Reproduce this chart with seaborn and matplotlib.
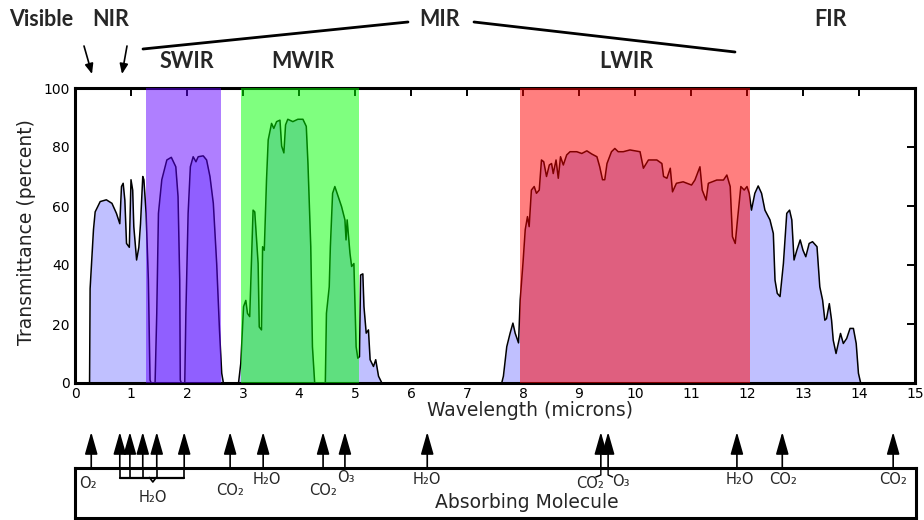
import matplotlib
matplotlib.use("Agg")
import matplotlib.pyplot as plt
from matplotlib.lines import Line2D
import pandas as pd
import seaborn as sns

# ---------------- data ----------------
wavelength = [
    0.0, 0.26, 0.27, 0.33, 0.36, 0.45, 0.56, 0.66, 0.74, 0.80, 0.83, 0.86, 0.89, 0.92, 0.97,
    1.00, 1.03, 1.05, 1.10, 1.14, 1.17, 1.21, 1.23, 1.27, 1.31, 1.34, 1.36,
    1.43, 1.46, 1.49, 1.55, 1.64, 1.72, 1.80, 1.84, 1.87, 1.88, 1.90, 1.96, 1.98, 2.02, 2.06,
    2.11, 2.16, 2.20, 2.29, 2.35, 2.41, 2.47, 2.53, 2.58, 2.62, 2.65,
    2.92, 2.96, 3.01, 3.05, 3.08, 3.12, 3.15, 3.18, 3.21, 3.27, 3.29, 3.33, 3.35, 3.38, 3.42,
    3.45, 3.51, 3.55, 3.60, 3.66, 3.69, 3.73, 3.76, 3.80, 3.89, 3.98, 4.07, 4.13, 4.16, 4.21,
    4.24, 4.28, 4.47, 4.49, 4.54, 4.56, 4.60, 4.64, 4.70, 4.76, 4.82, 4.84, 4.86, 4.91, 4.94,
    4.98, 5.02, 5.05, 5.08, 5.10, 5.14, 5.16, 5.20, 5.24, 5.27, 5.33, 5.37, 5.42, 5.48,
    7.62, 7.65, 7.71, 7.77, 7.82, 7.86, 7.92, 7.95, 8.00, 8.04, 8.08, 8.11, 8.15, 8.20, 8.24,
    8.29, 8.33, 8.37, 8.42, 8.47, 8.51, 8.54, 8.59, 8.63, 8.67, 8.72, 8.78, 8.84, 8.96, 9.05,
    9.14, 9.23, 9.32, 9.37, 9.42, 9.46, 9.50, 9.58, 9.64, 9.70, 9.79, 9.91, 10.09, 10.15,
    10.24, 10.39, 10.48, 10.51, 10.57, 10.63, 10.67, 10.74, 10.86, 11.01, 11.07, 11.16, 11.20,
    11.27, 11.31, 11.46, 11.58, 11.64, 11.70, 11.74, 11.79, 11.83, 11.89, 11.95, 12.00, 12.04,
    12.08, 12.14, 12.20, 12.26, 12.32, 12.41, 12.47, 12.50, 12.54, 12.59, 12.65, 12.71, 12.76,
    12.80, 12.84, 12.89, 12.95, 13.00, 13.05, 13.11, 13.17, 13.25, 13.30, 13.35, 13.39, 13.42,
    13.47, 13.51, 13.54, 13.59, 13.63, 13.67, 13.72, 13.78, 13.84, 13.90, 13.95, 13.99, 14.03,
    15.0,
]
transmittance = [
    0, 0, 32, 52, 58, 61.5, 62.1, 60.9, 57.5, 54, 66.6, 67.7, 62, 47.3, 46,
    68.9, 65.4, 53, 41.7, 46, 54, 70, 68.9, 57.5, 35, 1, 0,
    0, 23.6, 57.5, 68.9, 75.6, 76.5, 73.3, 63.2, 35, 1, 0, 0, 23.6, 57.5, 73.3,
    76.7, 75.0, 76.7, 77, 75.6, 70, 60.9, 40.5, 18, 3.3, 0,
    0, 6.6, 25.9, 28, 23.6, 22.5, 40.5, 58.6, 58, 40.5, 19, 18, 46.2, 45, 68.9,
    82.4, 88, 86.3, 88.6, 89.1, 80.3, 78, 87.5, 89.4, 88.6, 89.4, 89.4, 87, 74.4, 46.2,
    12.3, 0, 0, 23.6, 32.6, 46.2, 64.3, 66.6, 63.2, 59.8, 55.3, 48.5, 55.3, 44, 39.5,
    40.5, 12.3, 8.4, 8.9, 36.6, 37, 25.9, 16.9, 18, 7.9, 5.6, 7.9, 2.3, 0,
    0, 2.3, 12.3, 16.9, 20.3, 16.9, 13.6, 28.3, 40.7, 52, 56.4, 53, 65.4, 66.6, 64.3,
    65.4, 75.6, 75, 70, 73.9, 74.4, 71, 75.6, 69.4, 76.7, 73.9, 77.3, 78.4, 78.4, 77.8,
    78.7, 77.6, 76.7, 73.3, 68.9, 68.9, 74.4, 78.4, 79.5, 78.4, 78.4, 79, 78.4, 72.8,
    75.6, 75.6, 74.4, 70, 69.4, 72.8, 64.8, 67.7, 68.2, 67.1, 68.8, 73.3, 65.4,
    62, 67.7, 68.8, 68.8, 70.5, 66.6, 49.6, 47.3, 55.3, 66.6, 65.4, 66.6, 64.3,
    58.6, 64.3, 66.8, 64.3, 58.6, 55.3, 50.7, 34.9, 30.4, 29.3, 40.5, 57.5, 58.6,
    55.3, 41.7, 45, 48.5, 45, 42.8, 47.3, 47.9, 46.2, 32.6, 28.1, 21.3, 21.8,
    26.9, 21.3, 14.5, 10, 13.4, 16.8, 13.4, 15.1, 18.5, 18.5, 13.4, 3.3, 0,
    0,
]

band_names = ["SWIR", "MWIR", "LWIR"]
band_start = [1.27, 2.97, 7.95]
band_end = [2.60, 5.07, 12.05]
band_colors = ["#6100FF", "#00FF00", "#FF0000"]

molecule_pos = [0.29, 0.80, 0.98, 1.21, 1.46, 1.95, 2.77, 3.36, 4.43, 4.82,
                6.29, 9.39, 9.52, 11.82, 12.63, 14.61]
h2o_group = [0.80, 0.98, 1.21, 1.46, 1.95]
label_text = ["O₂", "H₂O", "CO₂", "H₂O", "CO₂", "O₃", "H₂O", "CO₂", "O₃",
              "H₂O", "CO₂", "CO₂"]
label_x = [0.23, 1.39, 2.77, 3.43, 4.43, 4.84, 6.29, 9.20, 9.74, 11.88, 12.64, 14.61]
label_y = [0.70, 0.42, 0.55, 0.76, 0.55, 0.80, 0.76, 0.70, 0.72, 0.76, 0.76, 0.76]

region_labels = ["Visible", "NIR", "MIR", "FIR"]

# ---------------- figure ----------------
sns.set_style("white")
plt.rcParams["font.family"] = ["DejaVu Sans"]

W, H = 924, 520
fig = plt.figure(figsize=(W / 100, H / 100), dpi=100)


def rect(l, t, r, b):
    return [l / W, 1 - b / H, (r - l) / W, (b - t) / H]


ax = fig.add_axes(rect(75, 88, 915, 383))
df = pd.DataFrame({"wavelength": wavelength, "transmittance": transmittance})
ax.fill_between(df["wavelength"], df["transmittance"], color="#C0C0FF", lw=0, zorder=1)
sns.lineplot(data=df, x="wavelength", y="transmittance", color="black", lw=1.1,
             ax=ax, zorder=2, estimator=None, sort=False)
for s, e, c in zip(band_start, band_end, band_colors):
    ax.axvspan(s, e, color=c, alpha=0.5, lw=0, zorder=4)

ax.set_xlim(0, 15)
ax.set_ylim(0, 100)
ax.set_xticks(range(16))
ax.set_yticks(range(0, 101, 20))
ax.tick_params(direction="in", length=6, width=1.4, top=True, right=True,
               labelsize=10, pad=4, colors="black")
ax.tick_params(axis="x", pad=3)
for sp in ax.spines.values():
    sp.set_linewidth(2.2)
    sp.set_color("black")
    sp.set_zorder(3)

ax.set_xlabel("Wavelength (microns)", fontsize=13.5)
ax.xaxis.set_label_coords((530 - 75) / 840, -(401 - 383) / 295)
ax.set_ylabel("Transmittance (percent)", fontsize=13.5, color="#222222")
ax.yaxis.set_label_coords((36 - 75) / 840, (383 - 232) / 295)

# ---------------- absorbing molecule panel ----------------
ax2 = fig.add_axes(rect(75, 468, 916, 518))
ax2.set_xlim(0, 15 * 841 / 840)
ax2.set_ylim(0, 1)
ax2.set_xticks([])
ax2.set_yticks([])
for sp in ax2.spines.values():
    sp.set_linewidth(2.2)
    sp.set_color("black")

for p in molecule_pos:
    ax2.annotate("", xy=(p, 1.72), xytext=(p, 1.0),
                 arrowprops=dict(arrowstyle="-|>,head_length=1.05,head_width=0.3",
                                 mutation_scale=13, color="black", lw=1.2,
                                 shrinkA=0, shrinkB=0),
                 annotation_clip=False)

# brace under the H2O group
for p in h2o_group:
    ax2.plot([p, p], [1.0, 0.81], color="black", lw=1.2)
ax2.plot([h2o_group[0], h2o_group[-1]], [0.81, 0.81], color="black", lw=1.6)
ax2.plot([1.33, 1.39, 1.45], [0.81, 0.72, 0.81], color="black", lw=1.2)

# connectors for the close CO2 / O3 pair
ax2.plot([9.39, 9.39, 9.30], [1.0, 0.86, 0.82], color="black", lw=1.0)
ax2.plot([9.52, 9.52, 9.60], [1.0, 0.86, 0.82], color="black", lw=1.0)

for t, x, y in zip(label_text, label_x, label_y):
    ax2.text(x, y, t, ha="center", va="center", fontsize=10.5)

ax2.text((527 - 75) / 56, 0.30, "Absorbing Molecule", ha="center", va="center",
         fontsize=13.5)

# ---------------- top region annotations ----------------
bold = dict(family=["Lato", "DejaVu Sans"], fontweight="bold", fontsize=15.5,
            ha="center", va="center")
for name, (x, y) in zip(region_labels, [(41, 20), (111, 20), (440, 20), (830, 20)]):
    fig.text(x / W, 1 - y / H, name, **bold)
for name, (x, y) in zip(band_names, [(187, 62), (303, 62), (626, 62)]):
    fig.text(x / W, 1 - y / H, name, **bold)


def fline(x1, y1, x2, y2, lw=2.0):
    fig.add_artist(Line2D([x1 / W, x2 / W], [1 - y1 / H, 1 - y2 / H],
                          transform=fig.transFigure, color="black", lw=lw))


fline(143, 49, 408, 22)
fline(474, 22, 735, 52)

for (x1, y1, x2, y2) in [(84, 46, 92, 74), (127, 46, 122, 74)]:
    ax.annotate("", xy=(x2, H - y2), xytext=(x1, H - y1),
                xycoords="figure pixels", textcoords="figure pixels",
                arrowprops=dict(arrowstyle="-|>,head_length=0.6,head_width=0.25",
                                mutation_scale=10, color="black", lw=1.2,
                                shrinkA=0, shrinkB=0),
                annotation_clip=False)

fig.savefig("out.png", dpi=100)
